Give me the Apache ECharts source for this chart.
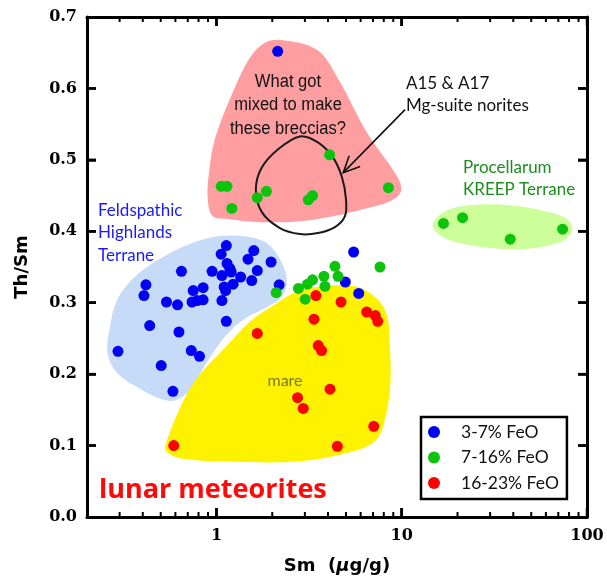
<!DOCTYPE html>
<html><head><meta charset="utf-8">
<script src="https://cdn.jsdelivr.net/npm/echarts@6/dist/echarts.min.js"></script>
<style>html,body{margin:0;padding:0;background:#fff}#c{width:607px;height:580px}</style>
</head><body><div id="c"></div>
<script>
// ---- Data (Sm in µg/g, Th/Sm ratio) ----
const seriesNames = ['3-7% FeO', '7-16% FeO', '16-23% FeO'];
const lowFeO = [[2.14,0.652],[1.13,0.380],[1.06,0.368],[1.59,0.373],[1.48,0.361],[1.97,0.357],[0.647,0.344],[0.947,0.344],[1.14,0.355],[1.18,0.348],[1.20,0.343],[1.07,0.338],[1.35,0.336],[1.66,0.345],[1.55,0.331],[1.23,0.326],[1.10,0.322],[1.12,0.317],[2.18,0.325],[0.416,0.325],[0.406,0.310],[0.749,0.317],[0.847,0.321],[0.738,0.301],[0.787,0.303],[0.847,0.304],[0.537,0.301],[0.616,0.297],[1.07,0.303],[0.436,0.268],[0.627,0.259],[1.13,0.274],[0.294,0.232],[0.731,0.233],[0.810,0.225],[0.503,0.212],[0.582,0.176],[5.50,0.371],[4.96,0.329],[5.86,0.313]];
const midFeO = [[1.06,0.463],[1.14,0.463],[1.21,0.432],[1.66,0.447],[1.86,0.456],[3.13,0.444],[3.30,0.450],[4.08,0.507],[8.47,0.461],[16.8,0.411],[21.3,0.419],[38.5,0.389],[73.8,0.403],[4.36,0.351],[7.63,0.350],[3.80,0.337],[4.53,0.337],[3.30,0.332],[3.10,0.326],[2.77,0.320],[3.85,0.323],[3.01,0.305],[2.10,0.314]];
const highFeO = [[3.44,0.310],[4.70,0.301],[3.36,0.277],[1.66,0.257],[3.54,0.240],[3.69,0.233],[6.47,0.287],[7.20,0.282],[7.42,0.274],[4.10,0.179],[2.74,0.167],[2.94,0.152],[7.06,0.127],[0.588,0.100],[4.49,0.099]];

// ---- Axis ticks ----
const xMajorTicks = [1, 10, 100];
const xMinorTicks = [0.3,0.4,0.5,0.6,0.7,0.8,0.9,2,3,4,5,6,7,8,9,20,30,40,50,60,70,80,90];
const yTicks = [0.1, 0.2, 0.3, 0.4, 0.5, 0.6];
const yMin = 0, yMax = 0.7, yStep = 0.1;
const xMin = 0.2, xMax = 100;

// ---- Region outlines (data coordinates) ----
const regionBreccia = [[2.2,0.668],[3.485,0.654],[4.47,0.6165],[6.49,0.5384],[9.43,0.477],[9.91,0.456],[8.65,0.442],[6.49,0.4324],[4.25,0.4212],[2.82,0.4142],[1.714,0.4128],[1.18,0.417],[0.955,0.4212],[0.897,0.4449],[0.909,0.4798],[0.979,0.5286],[1.21,0.5914],[1.514,0.643],[1.824,0.6639]];
const regionFHT = [[1.042,0.3933],[1.514,0.3919],[1.894,0.3822],[2.227,0.3584],[2.399,0.3305],[2.254,0.3082],[1.894,0.2943],[1.422,0.2775],[1.109,0.2524],[0.865,0.212],[0.717,0.1771],[0.595,0.1632],[0.494,0.166],[0.385,0.1799],[0.2927,0.2008],[0.2585,0.2287],[0.265,0.2636],[0.2927,0.3054],[0.3618,0.3361],[0.494,0.3612],[0.717,0.3822]];
const regionMare = [[4.25,0.3243],[5.735,0.3222],[7.354,0.3054],[8.326,0.2817],[8.65,0.2357],[8.65,0.1799],[8.02,0.1311],[7.17,0.106],[5.254,0.0907],[2.82,0.0781],[1.225,0.0774],[0.633,0.0823],[0.532,0.0934],[0.5454,0.1102],[0.633,0.152],[0.782,0.1939],[1.137,0.2399],[1.514,0.2734],[2.016,0.2957],[2.717,0.3152]];
const regionPKT = [[14.77,0.4114],[17.14,0.4282],[23.4,0.4365],[38.49,0.4365],[59.5,0.4282],[78.3,0.417],[83.3,0.4003],[71.7,0.3849],[46.4,0.3752],[30.0,0.3766],[19.41,0.3849],[15.51,0.3975]];
const noriteLoop = [[2.82,0.5328],[3.528,0.5244],[4.25,0.5035],[4.757,0.4756],[5.0,0.4449],[4.937,0.4212],[4.36,0.4059],[3.528,0.3975],[2.82,0.3961],[2.199,0.4045],[1.758,0.4268],[1.631,0.4589],[1.758,0.4895],[2.145,0.5146]];
const arrowFromTo = [[10.42,0.5704],[4.834,0.4821]];

const chart = echarts.init(document.getElementById('c'), null, {renderer: 'canvas'});

function regionSeries(pts, fill, stroke, lw, z) {
  return {
    type: 'custom', coordinateSystem: 'cartesian2d', xAxisIndex: 0, yAxisIndex: 0,
    silent: true, z: z, clip: false,
    data: [pts[0]],
    renderItem: function (params, api) {
      const points = pts.map(p => api.coord(p));
      return {type: 'polygon', shape: {points: points, smooth: 0.35},
        style: {fill: fill || null, stroke: stroke || null, lineWidth: lw || 0}};
    }
  };
}

const arrowSeries = {
  type: 'custom', coordinateSystem: 'cartesian2d', xAxisIndex: 0, yAxisIndex: 0,
  silent: true, z: 4, clip: false,
  data: [arrowFromTo[0]],
  renderItem: function (params, api) {
    const a = api.coord(arrowFromTo[0]), b = api.coord(arrowFromTo[1]);
    const ang = Math.atan2(a[1] - b[1], a[0] - b[0]);
    const L = 18, spread = 0.44;
    const p1 = [b[0] + L * Math.cos(ang + spread), b[1] + L * Math.sin(ang + spread)];
    const p2 = [b[0] + L * Math.cos(ang - spread), b[1] + L * Math.sin(ang - spread)];
    const st = {stroke: '#111', lineWidth: 1.6, fill: null};
    return {type: 'group', children: [
      {type: 'line', shape: {x1: a[0], y1: a[1], x2: b[0], y2: b[1]}, style: st},
      {type: 'polyline', shape: {points: [p1, b, p2]}, style: st}
    ]};
  }
};

// frame ticks (inside) on all four edges, each drawn as a short polyline via the axis scales
function tickPolyline(v, isX, len, w) {
  return {
    type: 'custom', coordinateSystem: 'cartesian2d', xAxisIndex: 0, yAxisIndex: 0,
    silent: true, z: 4, clip: false,
    data: [isX ? [v, 0.35] : [1, v]],
    renderItem: function (params, api) {
      const st = {stroke: '#000', lineWidth: w, fill: null};
      if (isX) {
        const b = api.coord([v, yMin]), t = api.coord([v, yMax]);
        return {type: 'group', children: [
          {type: 'polyline', shape: {points: [[b[0], b[1]], [b[0], b[1] - len]]}, style: st},
          {type: 'polyline', shape: {points: [[t[0], t[1]], [t[0], t[1] + len]]}, style: st}
        ]};
      }
      const l = api.coord([xMin, v]), r = api.coord([xMax, v]);
      return {type: 'group', children: [
        {type: 'polyline', shape: {points: [[l[0], l[1]], [l[0] + len, l[1]]]}, style: st},
        {type: 'polyline', shape: {points: [[r[0], r[1]], [r[0] - len, r[1]]]}, style: st}
      ]};
    }
  };
}
const tickSeriesList = []
  .concat(xMinorTicks.map(v => tickPolyline(v, true, 5, 2)))
  .concat(xMajorTicks.map(v => tickPolyline(v, true, 9, 2.5)))
  .concat(yTicks.map(v => tickPolyline(v, false, 9, 2.5)));

const tickFont = {fontFamily: 'DejaVu Serif', fontWeight: 'bold', fontSize: 16, color: '#000'};
const axisLineStyle = {color: '#000', width: 3};

function xAxisDef(pos, showLabel, extra) {
  return Object.assign({
    type: 'log', logBase: 10, min: xMin, max: xMax, position: pos, gridIndex: 0,
    axisLine: {show: true, onZero: false, lineStyle: axisLineStyle},
    axisTick: {show: true, inside: true, length: 9, customValues: xMajorTicks, lineStyle: {color: '#000', width: 2.5}},
    axisLabel: Object.assign({show: showLabel, customValues: xMajorTicks, margin: 11, formatter: v => String(Math.round(v))}, tickFont),
    splitLine: {show: false}, minorTick: {show: false}, minorSplitLine: {show: false}
  }, extra || {});
}

chart.setOption({
  animation: false,
  backgroundColor: '#fff',
  grid: {left: 87, right: 20, top: 17, bottom: 61, containLabel: false},
  xAxis: [
    xAxisDef('bottom', true, {
      name: '{a|Sm  (}{b|μ}{a|g/g)}', nameLocation: 'middle', nameGap: 40,
      nameTextStyle: {rich: {
        a: {fontFamily: 'DejaVu Sans', fontWeight: 'bold', fontSize: 18, color: '#000'},
        b: {fontFamily: 'DejaVu Sans', fontWeight: 'bold', fontStyle: 'italic', fontSize: 18, color: '#000'}
      }}
    }),
    xAxisDef('top', false)
  ],
  yAxis: [
    {type: 'value', min: yMin, max: yMax, interval: yStep, position: 'left',
     axisLine: {show: true, onZero: false, lineStyle: axisLineStyle},
     axisTick: {show: true, inside: true, length: 9, lineStyle: {color: '#000', width: 2.5}},
     axisLabel: Object.assign({margin: 10, formatter: v => v.toFixed(1)}, tickFont),
     splitLine: {show: false},
     name: 'Th/Sm', nameLocation: 'middle', nameRotate: 90, nameGap: 56,
     nameTextStyle: {fontFamily: 'DejaVu Sans', fontWeight: 'bold', fontSize: 18, color: '#000'}},
    {type: 'value', min: yMin, max: yMax, interval: yStep, position: 'right',
     axisLine: {show: true, onZero: false, lineStyle: axisLineStyle},
     axisTick: {show: true, inside: true, length: 9, lineStyle: {color: '#000', width: 2.5}},
     axisLabel: {show: false}, splitLine: {show: false}}
  ],
  legend: {
    data: seriesNames, orient: 'vertical', left: 421, top: 417,
    icon: 'circle', itemWidth: 12, itemHeight: 12, itemGap: 7.5,
    padding: [6, 8, 7, 7], borderColor: '#000', borderWidth: 2.5, backgroundColor: '#fff',
    textStyle: {fontFamily: 'Lato', fontSize: 17.5, color: '#111', lineHeight: 14, padding: [0, 0, 0, 16]},
    selectedMode: false
  },
  graphic: [
    {type: 'text', x: 288, y: 70, z: 100, scaleX: 0.92, style: {text: 'What got\nmixed to make\nthese breccias?', fontFamily: 'Liberation Sans', fontSize: 18, lineHeight: 23.5, fill: '#111', align: 'center', verticalAlign: 'top'}},
    {type: 'text', x: 406, y: 73, z: 100, style: {text: 'A15 & A17\nMg-suite norites', fontFamily: 'Lato', fontSize: 17, lineHeight: 22, fill: '#111', align: 'left', verticalAlign: 'top'}},
    {type: 'text', x: 463, y: 156, z: 100, style: {text: 'Procellarum\nKREEP Terrane', fontFamily: 'Lato', fontSize: 17, lineHeight: 22.5, fill: '#1e8c1e', align: 'left', verticalAlign: 'top'}},
    {type: 'text', x: 98, y: 199, z: 100, style: {text: 'Feldspathic\nHighlands\nTerrane', fontFamily: 'Lato', fontSize: 17, lineHeight: 22.5, fill: '#1a1aff', align: 'left', verticalAlign: 'top'}},
    {type: 'text', x: 285, y: 381, z: 100, style: {text: 'mare', fontFamily: 'Lato', fontSize: 16, fill: '#7a7a14', align: 'center', verticalAlign: 'middle'}},
    {type: 'text', x: 99, y: 490, z: 100, style: {text: 'lunar meteorites', fontFamily: 'Open Sans', fontWeight: 'bold', fontSize: 27, fill: '#ff0a0a', align: 'left', verticalAlign: 'middle'}}
  ],
  series: [
    regionSeries(regionBreccia, '#ff9ea0', null, 0, 1),
    regionSeries(regionFHT, '#c6dbf7', null, 0, 1),
    regionSeries(regionMare, '#fff200', null, 0, 1),
    regionSeries(regionPKT, '#ccff99', null, 0, 1),
    regionSeries(noriteLoop, null, '#1a1a1a', 2, 2),
    arrowSeries,
    {name: seriesNames[0], type: 'scatter', data: lowFeO, symbolSize: 11, z: 5, itemStyle: {color: '#0000f5', opacity: 1}},
    {name: seriesNames[1], type: 'scatter', data: midFeO, symbolSize: 11, z: 5, itemStyle: {color: '#0cc40c', opacity: 1}},
    {name: seriesNames[2], type: 'scatter', data: highFeO, symbolSize: 11, z: 5, itemStyle: {color: '#ff0000', opacity: 1}}
  ].concat(tickSeriesList)
});
</script></body></html>
